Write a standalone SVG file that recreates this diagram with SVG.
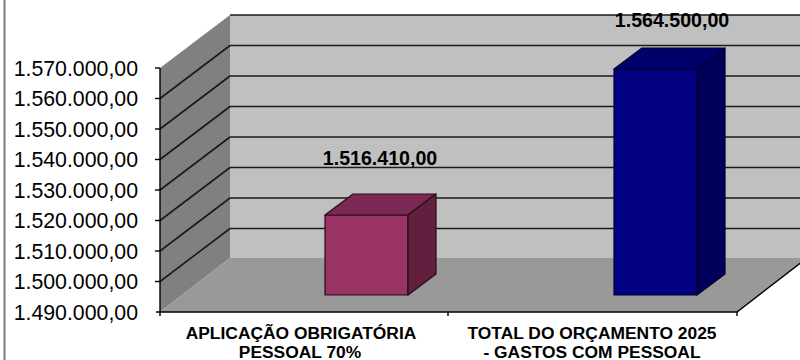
<svg xmlns="http://www.w3.org/2000/svg" width="800" height="360" viewBox="0 0 800 360">
<style>
.ylab{font-family:"Liberation Sans",Arial,sans-serif;font-size:21.3px;fill:#000;text-anchor:end}
.val{font-family:"Liberation Sans",Arial,sans-serif;font-size:19.6px;font-weight:bold;fill:#000;text-anchor:middle}
.cat{font-family:"Liberation Sans",Arial,sans-serif;font-size:17.4px;font-weight:bold;fill:#000;text-anchor:middle}
.grid{stroke:#1a1a1a;stroke-width:1.6;fill:none}
.axis{stroke:#000;stroke-width:1.4;fill:none}
.edge{stroke:#2a0a1a;stroke-width:1.2;stroke-linejoin:round}
.edgeb{stroke:#000030;stroke-width:1.2;stroke-linejoin:round}
</style>
<rect width="800" height="360" fill="#fff"/>
<line x1="4.5" y1="0" x2="4.5" y2="360" stroke="#7a7a7a" stroke-width="2"/>
<g id="walls">
<polygon points="230,15 807,15 807,258 230,258" fill="#c0c0c0"/>
<polygon points="160,68 230,15 230,258 160,312" fill="#808080"/>
<polygon points="160,312 230,258 807,258 737,312" fill="#999999"/>
</g>
<g id="gridlines">
<line class="grid" x1="230" y1="15" x2="807" y2="15"/>
<line class="grid" x1="230" y1="45.5" x2="807" y2="45.5"/>
<line class="grid" x1="230" y1="76" x2="807" y2="76"/>
<line class="grid" x1="230" y1="106.5" x2="807" y2="106.5"/>
<line class="grid" x1="230" y1="137" x2="807" y2="137"/>
<line class="grid" x1="230" y1="167.5" x2="807" y2="167.5"/>
<line class="grid" x1="230" y1="198" x2="807" y2="198"/>
<line class="grid" x1="230" y1="228.5" x2="807" y2="228.5"/>
<line class="grid" x1="160" y1="98.5" x2="230" y2="45.5"/>
<line class="grid" x1="160" y1="129" x2="230" y2="76"/>
<line class="grid" x1="160" y1="159.5" x2="230" y2="106.5"/>
<line class="grid" x1="160" y1="190" x2="230" y2="137"/>
<line class="grid" x1="160" y1="220.5" x2="230" y2="167.5"/>
<line class="grid" x1="160" y1="251" x2="230" y2="198"/>
<line class="grid" x1="160" y1="281.5" x2="230" y2="228.5"/>
</g>
<g id="axes">
<line class="axis" x1="160" y1="68" x2="160" y2="316"/>
<polyline class="axis" points="156,312 737,312 807,258"/>
<line class="axis" x1="737" y1="312" x2="737" y2="316"/>
<line class="axis" x1="448" y1="312" x2="448" y2="316"/>
<line class="axis" x1="155" y1="68" x2="160" y2="68"/>
<line class="axis" x1="155" y1="98.5" x2="160" y2="98.5"/>
<line class="axis" x1="155" y1="129" x2="160" y2="129"/>
<line class="axis" x1="155" y1="159.5" x2="160" y2="159.5"/>
<line class="axis" x1="155" y1="190" x2="160" y2="190"/>
<line class="axis" x1="155" y1="220.5" x2="160" y2="220.5"/>
<line class="axis" x1="155" y1="251" x2="160" y2="251"/>
<line class="axis" x1="155" y1="281.5" x2="160" y2="281.5"/>
</g>
<g id="y-labels">
<text class="ylab" x="138" y="75.5">1.570.000,00</text>
<text class="ylab" x="138" y="106">1.560.000,00</text>
<text class="ylab" x="138" y="136.5">1.550.000,00</text>
<text class="ylab" x="138" y="167">1.540.000,00</text>
<text class="ylab" x="138" y="197.5">1.530.000,00</text>
<text class="ylab" x="138" y="228">1.520.000,00</text>
<text class="ylab" x="138" y="258.5">1.510.000,00</text>
<text class="ylab" x="138" y="289">1.500.000,00</text>
<text class="ylab" x="138" y="319.5">1.490.000,00</text>
</g>
<g id="bar-aplicacao">
<rect class="edge" x="325" y="215" width="83" height="80" fill="#993366"/>
<polygon class="edge" points="325,215 353,194 436,194 408,215" fill="#7a2952"/>
<polygon class="edge" points="408,215 436,194 436,274 408,295" fill="#62203f"/>
<text class="val" x="380" y="165">1.516.410,00</text>
</g>
<g id="bar-total">
<rect class="edgeb" x="614" y="69" width="83" height="226" fill="#000080"/>
<polygon class="edgeb" points="614,69 642,48 725,48 697,69" fill="#00006c"/>
<polygon class="edgeb" points="697,69 725,48 725,274 697,295" fill="#000058"/>
<text class="val" x="672" y="27">1.564.500,00</text>
</g>
<g id="categories">
<text class="cat" x="301" y="339">APLICAÇÃO OBRIGATÓRIA</text>
<text class="cat" x="300" y="357.5">PESSOAL 70%</text>
<text class="cat" x="592" y="339">TOTAL DO ORÇAMENTO 2025</text>
<text class="cat" x="592" y="357.5">- GASTOS COM PESSOAL</text>
</g>
</svg>
